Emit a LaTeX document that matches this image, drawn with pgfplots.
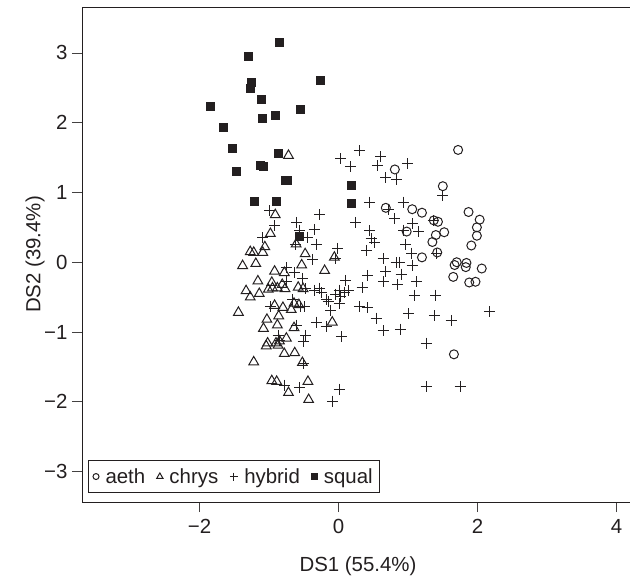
\documentclass[border=0pt]{standalone}
\usepackage{fontspec}
\setmainfont{Liberation Sans}
\usepackage{pgfplots}
\pgfplotsset{compat=1.18}
\definecolor{ink}{RGB}{35,31,32}
\pgfplotsset{dotlegend/.style={legend image code/.code={\draw[##1] plot coordinates {(0bp,0bp)};}}}

\begin{document}
\begin{tikzpicture}
\useasboundingbox (-82bp,-75bp) rectangle (548bp,502bp);
\begin{axis}[
  at={(0bp,0bp)}, anchor=south west,
  width=552bp, height=495bp, scale only axis,
  xmin=-3.69, xmax=4.25, ymin=-3.437, ymax=3.659,
  xtick={-2,0,2,4}, xticklabels={−2,0,2,4},
  ytick={-3,-2,-1,0,1,2,3}, yticklabels={−3,−2,−1,0,1,2,3},
  xtick pos=bottom, ytick pos=left,
  tick align=outside, major tick length=10bp,
  tick style={line width=0.9bp, color=ink!85},
  axis line style={line width=0.9bp, color=ink},
  tick label style={font=\fontsize{20.5}{24}\selectfont, color=ink},
  xticklabel style={yshift=-4bp},
  yticklabel style={xshift=-1bp},
  label style={font=\fontsize{20.5}{24}\selectfont, color=ink},
  xlabel={DS1 (55.4\%)}, ylabel={DS2 (39.4\%)},
  xlabel style={at={(axis description cs:0.5,-0.1414)}, anchor=base},
  ylabel style={at={(axis description cs:-0.0752,0.5)}, anchor=base},
  legend style={at={(axis cs:-3.61,-3.31)}, anchor=south west, draw=ink,
    line width=0.9bp, fill=white, inner xsep=5bp, inner ysep=6bp,
    font=\fontsize{20.5}{24}\selectfont, text=ink,
    /tikz/every odd column/.style={column sep=4.5bp},
    /tikz/every even column/.style={column sep=9.5bp}},
  legend columns=4,
]
% aeth
\addplot[only marks, mark=o, mark size=4.5bp, ink, line width=1bp, dotlegend,
  legend image post style={mark size=3bp}]
  coordinates {
  (1.72,1.61) (1.50,1.09) (0.81,1.33) (0.68,0.78) (1.06,0.76) (1.20,0.71)
  (1.87,0.72) (2.03,0.61) (1.99,0.50) (1.99,0.38) (1.91,0.24) (1.37,0.60)
  (1.43,0.58) (1.52,0.43) (1.40,0.39) (0.98,0.44) (1.35,0.29) (1.42,0.14)
  (1.20,0.07) (1.70,0.00) (1.67,-0.04) (1.84,-0.01) (1.83,-0.07) (2.06,-0.09)
  (1.65,-0.21) (1.88,-0.29) (1.97,-0.28) (1.66,-1.32)
  };
\addlegendentry{aeth}
% chrys
\addplot[only marks, mark=triangle, mark size=5.6bp, ink, line width=1bp, dotlegend,
  legend image post style={mark size=3.6bp}]
  coordinates {
  (-0.72,1.53) (-0.91,0.68) (-0.98,0.41) (-0.61,0.26) (-1.06,0.22) (-1.27,0.15)
  (-1.22,0.14) (-1.09,0.14) (-0.48,0.12) (-0.06,0.07) (-1.38,-0.05) (-1.19,-0.02)
  (-0.53,-0.04) (-0.92,-0.13) (-0.78,-0.15) (-0.20,-0.12) (-1.16,-0.27) (-0.96,-0.29)
  (-0.81,-0.32) (-0.58,-0.36) (-1.33,-0.41) (-1.27,-0.50) (-1.14,-0.45) (-1.01,-0.39)
  (-0.95,-0.37) (-0.88,-0.37) (-0.77,-0.38) (-0.51,-0.38) (-1.44,-0.72) (-0.92,-0.62)
  (-0.80,-0.65) (-0.64,-0.59) (-0.57,-0.61) (-0.68,-0.68) (-0.86,-0.77) (-1.03,-0.82)
  (-0.88,-0.90) (-1.08,-0.95) (-0.64,-0.94) (-0.09,-0.86) (-1.02,-1.16) (-1.04,-1.20)
  (-0.90,-1.16) (-0.87,-1.19) (-0.85,-1.13) (-0.75,-1.09) (-0.78,-1.31) (-0.63,-1.30)
  (-1.22,-1.43) (-0.52,-1.44) (-0.96,-1.70) (-0.89,-1.71) (-0.72,-1.87) (-0.44,-1.71)
  (-0.43,-1.97)
  };
\addlegendentry{chrys}
% hybrid
\addplot[only marks, mark=+, mark size=5.5bp, ink, line width=1bp, dotlegend,
  legend image post style={mark size=4bp}]
  coordinates {
  (0.30,1.60) (0.03,1.48) (0.17,1.37) (0.61,1.51) (0.56,1.38) (0.99,1.41)
  (0.68,1.21) (0.83,1.19) (1.50,0.96) (0.45,0.86) (0.93,0.86) (0.72,0.76)
  (0.81,0.62) (1.07,0.55) (1.15,0.44) (1.36,0.60) (-0.27,0.68) (0.25,0.57)
  (0.45,0.45) (0.47,0.34) (0.52,0.28) (-0.35,0.47) (-0.45,0.36) (0.94,0.46)
  (0.97,0.25) (0.40,0.17) (1.05,0.13) (1.06,-0.04) (1.41,0.12) (0.64,0.05)
  (0.83,-0.01) (0.88,0.00) (-0.32,0.26) (-0.01,0.20) (0.42,-0.19) (0.68,-0.13)
  (0.90,-0.17) (-0.99,0.74) (-0.60,0.57) (-0.92,0.52) (-1.09,0.35) (-0.56,0.46)
  (-0.62,0.25) (-0.37,0.04) (-0.04,0.06) (-0.75,-0.08) (-0.63,-0.15) (-0.52,-0.23)
  (-0.75,-0.28) (0.10,-0.26) (0.34,-0.36) (-0.48,-0.38) (-0.35,-0.40) (-0.27,-0.37)
  (-0.25,-0.44) (-0.04,-0.46) (0.01,-0.40) (0.09,-0.43) (0.15,-0.41) (0.03,-0.49)
  (-0.18,-0.54) (-0.15,-0.56) (0.01,-0.59) (-0.66,-0.54) (-0.98,-0.64) (-0.54,-0.64)
  (-0.49,-0.64) (-0.11,-0.69) (0.30,-0.64) (0.41,-0.65) (0.54,-0.80) (-0.32,-0.86)
  (-0.18,-0.92) (-0.61,-0.90) (0.04,-1.07) (-0.87,-1.05) (-0.85,-1.12) (-0.47,-1.05)
  (-0.51,-1.13) (-0.50,-1.45) (-0.78,-1.76) (-0.56,-1.80) (0.01,-1.82) (-0.08,-1.99)
  (0.65,-0.28) (0.85,-0.32) (1.12,-0.28) (1.09,-0.47) (1.40,-0.47) (1.01,-0.74)
  (1.38,-0.77) (1.62,-0.84) (2.17,-0.71) (0.64,-0.98) (0.89,-0.96) (1.26,-1.16)
  (1.26,-1.78) (1.75,-1.78)
  };
\addlegendentry{hybrid}
% squal
\addplot[only marks, mark=square*, mark size=4bp, ink, line width=0.5bp, dotlegend,
  legend image post style={mark size=3bp}]
  coordinates {
  (-0.85,3.16) (-1.30,2.96) (-1.25,2.58) (-1.27,2.49) (-0.27,2.61) (-1.85,2.23)
  (-1.11,2.33) (-0.55,2.20) (-1.10,2.07) (-0.91,2.10) (-1.66,1.94) (-1.53,1.64)
  (-0.87,1.56) (-1.47,1.31) (-1.13,1.39) (-1.09,1.37) (-0.77,1.18) (-0.74,1.18)
  (0.19,1.11) (0.19,0.84) (-1.21,0.87) (-0.89,0.87) (-0.56,0.37)
  };
\addlegendentry{squal}
\end{axis}
\end{tikzpicture}
\end{document}
